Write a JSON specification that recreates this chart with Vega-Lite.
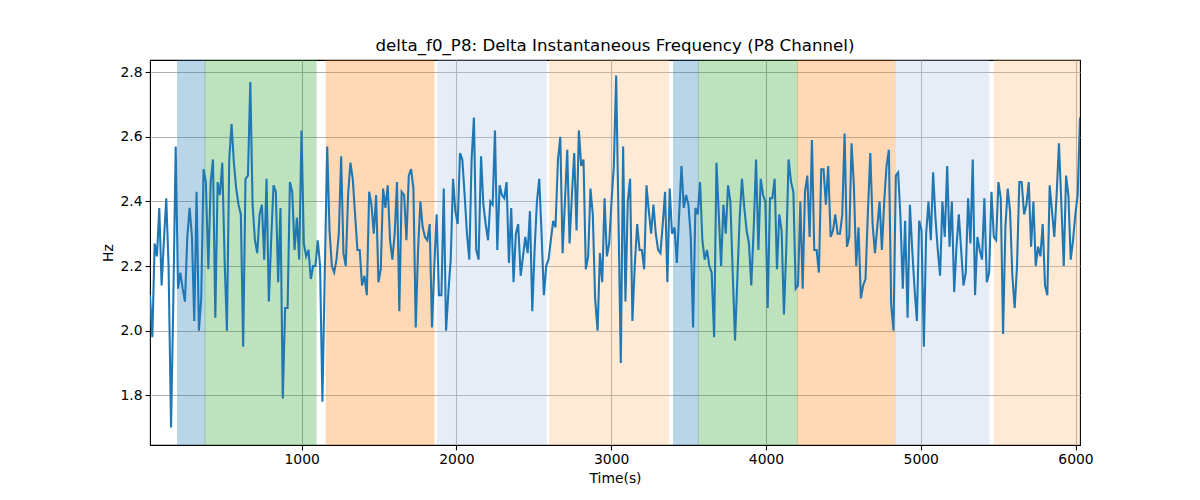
{
  "$schema": "https://vega.github.io/schema/vega-lite/v6.json",
  "width": 930,
  "height": 385,
  "autosize": {"type": "none"},
  "padding": {"left": 150, "top": 60, "right": 120, "bottom": 55},
  "background": "white",
  "title": {
    "text": "delta_f0_P8: Delta Instantaneous Frequency (P8 Channel)",
    "fontSize": 16.67,
    "fontWeight": "normal",
    "color": "black",
    "anchor": "middle",
    "offset": 5
  },
  "config": {
    "font": "DejaVu Sans",
    "view": {"stroke": "black", "strokeWidth": 1.1},
    "axis": {
      "domain": false,
      "grid": true,
      "gridColor": "#b0b0b0",
      "gridWidth": 1.1,
      "tickColor": "black",
      "tickSize": 4.9,
      "tickWidth": 1.1,
      "labelColor": "black",
      "labelFontSize": 13.9,
      "labelPadding": 3,
      "labelFlush": false,
      "titleColor": "black",
      "titleFontSize": 13.9,
      "titleFontWeight": "normal",
      "titlePadding": 5
    }
  },
  "datasets": {
    "spans": [
      {"start": 198, "end": 375, "phase": "p1"},
      {"start": 375, "end": 1093, "phase": "p2"},
      {"start": 1158, "end": 1855, "phase": "p3"},
      {"start": 1876, "end": 2580, "phase": "p4"},
      {"start": 2602, "end": 3371, "phase": "p5"},
      {"start": 3403, "end": 3563, "phase": "p1"},
      {"start": 3563, "end": 4203, "phase": "p2"},
      {"start": 4203, "end": 4834, "phase": "p3"},
      {"start": 4838, "end": 5441, "phase": "p4"},
      {"start": 5474, "end": 6029, "phase": "p5"}
    ],
    "series": [
      {"t":20,"v":2.11},{"t":35,"v":1.98},{"t":50,"v":2.27},{"t":65,"v":2.23},{"t":80,"v":2.38},{"t":95,"v":2.14},{"t":110,"v":2.28},{"t":125,"v":2.41},{"t":140,"v":2.20},{"t":156,"v":1.70},
      {"t":171,"v":2.10},{"t":186,"v":2.57},{"t":201,"v":2.13},{"t":216,"v":2.18},{"t":231,"v":2.13},{"t":246,"v":2.09},{"t":261,"v":2.29},{"t":276,"v":2.38},{"t":291,"v":2.29},{"t":306,"v":2.03},
      {"t":321,"v":2.43},{"t":336,"v":2.00},{"t":351,"v":2.10},{"t":366,"v":2.50},{"t":381,"v":2.46},{"t":397,"v":2.19},{"t":412,"v":2.46},{"t":427,"v":2.53},{"t":442,"v":2.04},{"t":457,"v":2.46},
      {"t":472,"v":2.42},{"t":487,"v":2.52},{"t":502,"v":2.22},{"t":517,"v":2.00},{"t":532,"v":2.53},{"t":547,"v":2.64},{"t":562,"v":2.52},{"t":577,"v":2.44},{"t":592,"v":2.39},{"t":607,"v":2.36},
      {"t":622,"v":1.95},{"t":637,"v":2.47},{"t":653,"v":2.48},{"t":668,"v":2.77},{"t":683,"v":2.39},{"t":698,"v":2.28},{"t":713,"v":2.24},{"t":728,"v":2.36},{"t":743,"v":2.39},{"t":758,"v":2.22},
      {"t":773,"v":2.47},{"t":788,"v":2.09},{"t":803,"v":2.28},{"t":818,"v":2.45},{"t":833,"v":2.43},{"t":848,"v":2.15},{"t":863,"v":2.38},{"t":878,"v":1.79},{"t":893,"v":2.07},{"t":909,"v":2.07},
      {"t":924,"v":2.46},{"t":939,"v":2.43},{"t":954,"v":2.25},{"t":969,"v":2.35},{"t":984,"v":2.22},{"t":999,"v":2.62},{"t":1014,"v":2.27},{"t":1029,"v":2.23},{"t":1044,"v":2.25},{"t":1059,"v":2.16},
      {"t":1074,"v":2.20},{"t":1089,"v":2.20},{"t":1104,"v":2.28},{"t":1119,"v":2.20},{"t":1134,"v":1.78},{"t":1150,"v":2.20},{"t":1165,"v":2.57},{"t":1180,"v":2.31},{"t":1195,"v":2.20},{"t":1210,"v":2.18},
      {"t":1225,"v":2.22},{"t":1240,"v":2.30},{"t":1255,"v":2.54},{"t":1270,"v":2.24},{"t":1285,"v":2.20},{"t":1300,"v":2.42},{"t":1315,"v":2.52},{"t":1330,"v":2.47},{"t":1345,"v":2.36},{"t":1360,"v":2.25},
      {"t":1375,"v":2.25},{"t":1390,"v":2.14},{"t":1406,"v":2.17},{"t":1421,"v":2.11},{"t":1436,"v":2.43},{"t":1451,"v":2.39},{"t":1466,"v":2.30},{"t":1481,"v":2.42},{"t":1496,"v":2.15},{"t":1511,"v":2.19},
      {"t":1526,"v":2.44},{"t":1541,"v":2.38},{"t":1556,"v":2.45},{"t":1571,"v":2.28},{"t":1586,"v":2.22},{"t":1601,"v":2.30},{"t":1616,"v":2.46},{"t":1631,"v":2.06},{"t":1646,"v":2.43},{"t":1662,"v":2.42},
      {"t":1677,"v":2.28},{"t":1692,"v":2.48},{"t":1707,"v":2.50},{"t":1722,"v":2.44},{"t":1737,"v":2.01},{"t":1752,"v":2.25},{"t":1767,"v":2.40},{"t":1782,"v":2.32},{"t":1797,"v":2.29},{"t":1812,"v":2.28},
      {"t":1827,"v":2.33},{"t":1842,"v":2.01},{"t":1857,"v":2.20},{"t":1872,"v":2.36},{"t":1887,"v":2.11},{"t":1903,"v":2.11},{"t":1918,"v":2.44},{"t":1933,"v":2.00},{"t":1948,"v":2.12},{"t":1963,"v":2.22},
      {"t":1978,"v":2.47},{"t":1993,"v":2.37},{"t":2008,"v":2.33},{"t":2023,"v":2.55},{"t":2038,"v":2.53},{"t":2053,"v":2.42},{"t":2068,"v":2.30},{"t":2083,"v":2.22},{"t":2098,"v":2.53},{"t":2113,"v":2.66},
      {"t":2128,"v":2.25},{"t":2143,"v":2.22},{"t":2159,"v":2.54},{"t":2174,"v":2.39},{"t":2189,"v":2.33},{"t":2204,"v":2.28},{"t":2219,"v":2.40},{"t":2234,"v":2.39},{"t":2249,"v":2.62},{"t":2264,"v":2.25},
      {"t":2279,"v":2.45},{"t":2294,"v":2.42},{"t":2309,"v":2.41},{"t":2324,"v":2.46},{"t":2339,"v":2.21},{"t":2354,"v":2.38},{"t":2369,"v":2.15},{"t":2384,"v":2.30},{"t":2399,"v":2.33},{"t":2415,"v":2.17},
      {"t":2430,"v":2.23},{"t":2445,"v":2.29},{"t":2460,"v":2.24},{"t":2475,"v":2.37},{"t":2490,"v":2.06},{"t":2505,"v":2.25},{"t":2520,"v":2.40},{"t":2535,"v":2.47},{"t":2550,"v":2.30},{"t":2565,"v":2.11},
      {"t":2580,"v":2.20},{"t":2595,"v":2.22},{"t":2610,"v":2.28},{"t":2625,"v":2.34},{"t":2640,"v":2.32},{"t":2656,"v":2.53},{"t":2671,"v":2.60},{"t":2686,"v":2.24},{"t":2701,"v":2.40},{"t":2716,"v":2.56},
      {"t":2731,"v":2.27},{"t":2746,"v":2.42},{"t":2761,"v":2.55},{"t":2776,"v":2.31},{"t":2791,"v":2.62},{"t":2806,"v":2.51},{"t":2821,"v":2.53},{"t":2836,"v":2.19},{"t":2851,"v":2.23},{"t":2866,"v":2.44},
      {"t":2881,"v":2.36},{"t":2896,"v":2.10},{"t":2912,"v":2.00},{"t":2927,"v":2.24},{"t":2942,"v":2.15},{"t":2957,"v":2.41},{"t":2972,"v":2.23},{"t":2987,"v":2.27},{"t":3002,"v":2.40},{"t":3017,"v":2.51},
      {"t":3032,"v":2.79},{"t":3047,"v":2.35},{"t":3062,"v":1.90},{"t":3077,"v":2.57},{"t":3092,"v":2.09},{"t":3107,"v":2.40},{"t":3122,"v":2.47},{"t":3137,"v":2.03},{"t":3152,"v":2.20},{"t":3168,"v":2.33},
      {"t":3183,"v":2.25},{"t":3198,"v":2.25},{"t":3213,"v":2.19},{"t":3228,"v":2.45},{"t":3243,"v":2.37},{"t":3258,"v":2.30},{"t":3273,"v":2.39},{"t":3288,"v":2.30},{"t":3303,"v":2.25},{"t":3318,"v":2.24},
      {"t":3333,"v":2.33},{"t":3348,"v":2.43},{"t":3363,"v":2.15},{"t":3378,"v":2.44},{"t":3393,"v":2.30},{"t":3409,"v":2.32},{"t":3424,"v":2.21},{"t":3439,"v":2.36},{"t":3454,"v":2.51},{"t":3469,"v":2.38},
      {"t":3484,"v":2.42},{"t":3499,"v":2.39},{"t":3514,"v":2.29},{"t":3529,"v":2.01},{"t":3544,"v":2.38},{"t":3559,"v":2.36},{"t":3574,"v":2.46},{"t":3589,"v":2.28},{"t":3604,"v":2.22},{"t":3619,"v":2.25},
      {"t":3634,"v":2.20},{"t":3649,"v":2.18},{"t":3665,"v":1.98},{"t":3680,"v":2.52},{"t":3695,"v":2.36},{"t":3710,"v":2.20},{"t":3725,"v":2.39},{"t":3740,"v":2.30},{"t":3755,"v":2.45},{"t":3770,"v":2.40},
      {"t":3785,"v":2.18},{"t":3800,"v":1.97},{"t":3815,"v":2.16},{"t":3830,"v":2.35},{"t":3845,"v":2.47},{"t":3860,"v":2.38},{"t":3875,"v":2.31},{"t":3890,"v":2.27},{"t":3905,"v":2.14},{"t":3921,"v":2.32},
      {"t":3936,"v":2.53},{"t":3951,"v":2.25},{"t":3966,"v":2.47},{"t":3981,"v":2.42},{"t":3996,"v":2.40},{"t":4011,"v":2.07},{"t":4026,"v":2.41},{"t":4041,"v":2.41},{"t":4056,"v":2.47},{"t":4071,"v":2.19},
      {"t":4086,"v":2.36},{"t":4101,"v":2.31},{"t":4116,"v":2.05},{"t":4131,"v":2.25},{"t":4146,"v":2.53},{"t":4162,"v":2.46},{"t":4177,"v":2.43},{"t":4192,"v":2.13},{"t":4207,"v":2.14},{"t":4222,"v":2.40},
      {"t":4237,"v":2.13},{"t":4252,"v":2.43},{"t":4267,"v":2.48},{"t":4282,"v":2.29},{"t":4297,"v":2.59},{"t":4312,"v":2.25},{"t":4327,"v":2.25},{"t":4342,"v":2.18},{"t":4357,"v":2.50},{"t":4372,"v":2.50},
      {"t":4387,"v":2.39},{"t":4402,"v":2.51},{"t":4418,"v":2.29},{"t":4433,"v":2.31},{"t":4448,"v":2.36},{"t":4463,"v":2.30},{"t":4478,"v":2.30},{"t":4493,"v":2.36},{"t":4508,"v":2.61},{"t":4523,"v":2.26},
      {"t":4538,"v":2.29},{"t":4553,"v":2.58},{"t":4568,"v":2.45},{"t":4583,"v":2.20},{"t":4598,"v":2.32},{"t":4613,"v":2.10},{"t":4628,"v":2.14},{"t":4643,"v":2.16},{"t":4658,"v":2.36},{"t":4674,"v":2.55},
      {"t":4689,"v":2.33},{"t":4704,"v":2.24},{"t":4719,"v":2.32},{"t":4734,"v":2.40},{"t":4749,"v":2.25},{"t":4764,"v":2.40},{"t":4779,"v":2.51},{"t":4794,"v":2.56},{"t":4809,"v":2.08},{"t":4824,"v":2.00},
      {"t":4839,"v":2.48},{"t":4854,"v":2.49},{"t":4869,"v":2.35},{"t":4884,"v":2.13},{"t":4899,"v":2.34},{"t":4915,"v":2.04},{"t":4930,"v":2.39},{"t":4945,"v":2.25},{"t":4960,"v":2.13},{"t":4975,"v":2.03},
      {"t":4990,"v":2.34},{"t":5005,"v":2.31},{"t":5020,"v":1.95},{"t":5035,"v":2.30},{"t":5050,"v":2.40},{"t":5065,"v":2.28},{"t":5080,"v":2.49},{"t":5095,"v":2.35},{"t":5110,"v":2.25},{"t":5125,"v":2.17},
      {"t":5140,"v":2.40},{"t":5155,"v":2.29},{"t":5171,"v":2.51},{"t":5186,"v":2.26},{"t":5201,"v":2.40},{"t":5216,"v":2.12},{"t":5231,"v":2.26},{"t":5246,"v":2.36},{"t":5261,"v":2.25},{"t":5276,"v":2.14},
      {"t":5291,"v":2.18},{"t":5306,"v":2.41},{"t":5321,"v":2.27},{"t":5336,"v":2.53},{"t":5351,"v":2.11},{"t":5366,"v":2.29},{"t":5381,"v":2.25},{"t":5396,"v":2.22},{"t":5411,"v":2.41},{"t":5427,"v":2.15},
      {"t":5442,"v":2.18},{"t":5457,"v":2.43},{"t":5472,"v":2.29},{"t":5487,"v":2.28},{"t":5502,"v":2.46},{"t":5517,"v":2.41},{"t":5532,"v":1.99},{"t":5547,"v":2.32},{"t":5562,"v":2.44},{"t":5577,"v":2.37},
      {"t":5592,"v":2.17},{"t":5607,"v":2.07},{"t":5622,"v":2.20},{"t":5637,"v":2.46},{"t":5652,"v":2.46},{"t":5668,"v":2.36},{"t":5683,"v":2.39},{"t":5698,"v":2.46},{"t":5713,"v":2.26},{"t":5728,"v":2.40},
      {"t":5743,"v":2.20},{"t":5758,"v":2.26},{"t":5773,"v":2.23},{"t":5788,"v":2.33},{"t":5803,"v":2.14},{"t":5818,"v":2.11},{"t":5833,"v":2.45},{"t":5848,"v":2.37},{"t":5863,"v":2.29},{"t":5878,"v":2.42},
      {"t":5893,"v":2.58},{"t":5908,"v":2.40},{"t":5924,"v":2.20},{"t":5939,"v":2.48},{"t":5954,"v":2.42},{"t":5969,"v":2.22},{"t":5984,"v":2.28},{"t":5999,"v":2.36},{"t":6014,"v":2.42},{"t":6029,"v":2.66}
    ]
  },
  "layer": [
    {
      "data": {"name": "spans"},
      "mark": {"type": "rect", "opacity": 0.3, "strokeWidth": 1, "clip": true},
      "encoding": {
        "x": {
          "field": "start",
          "type": "quantitative",
          "scale": {"domain": [20, 6029], "nice": false, "zero": false},
          "axis": {"title": "Time(s)", "values": [1000, 2000, 3000, 4000, 5000, 6000], "format": "d"}
        },
        "x2": {"field": "end"},
        "fill": {
          "field": "phase",
          "type": "nominal",
          "legend": null,
          "scale": {"domain": ["p1", "p2", "p3", "p4", "p5"], "range": ["#1f77b4", "#2ca02c", "#ff7f0e", "#aec7e8", "#ffbb78"]}
        },
        "stroke": {
          "field": "phase",
          "type": "nominal",
          "legend": null,
          "scale": {"domain": ["p1", "p2", "p3", "p4", "p5"], "range": ["#1f77b4", "#2ca02c", "#ff7f0e", "#aec7e8", "#ffbb78"]}
        }
      }
    },
    {
      "data": {"name": "series"},
      "mark": {"type": "line", "color": "#1f77b4", "strokeWidth": 2.08, "clip": true},
      "encoding": {
        "x": {"field": "t", "type": "quantitative"},
        "y": {
          "field": "v",
          "type": "quantitative",
          "scale": {"domain": [1.646, 2.838], "nice": false, "zero": false},
          "axis": {"title": "Hz", "values": [1.8, 2.0, 2.2, 2.4, 2.6, 2.8], "format": ".1f"}
        }
      }
    }
  ]
}
